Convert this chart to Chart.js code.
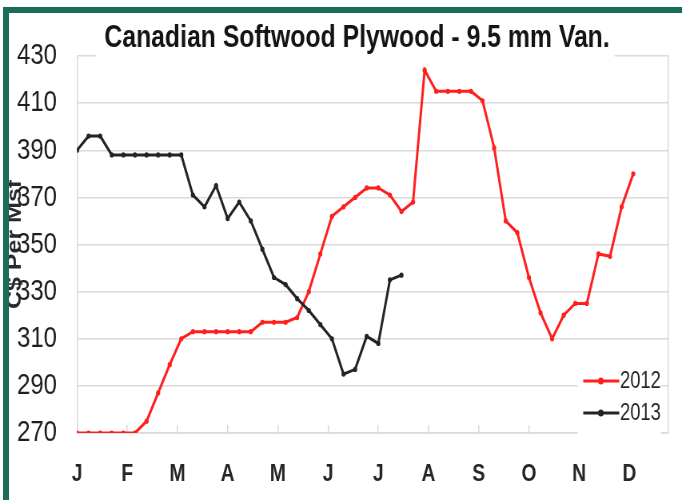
<!DOCTYPE html>
<html>
<head>
<meta charset="utf-8">
<title>Canadian Softwood Plywood - 9.5 mm Van.</title>
<script src="https://cdn.jsdelivr.net/npm/chart.js@4/dist/chart.umd.min.js"></script>
<style>
  html, body { margin: 0; padding: 0; background: #fff; }
  #wrap { position: relative; width: 682px; height: 500px; overflow: hidden; }
  /* the chart is laid out wide and squeezed horizontally, giving condensed lettering */
  #squeeze {
    position: absolute; left: 0; top: 0; width: 853px; height: 500px;
    transform: scaleX(0.7995); transform-origin: 0 0;
  }
  #chart { position: absolute; left: 0; top: 0; }
  #frame {
    position: absolute; left: 3px; top: 7px; right: 0; bottom: 0;
    border-left: 6px solid #1a6e59; border-top: 6px solid #1a6e59;
    pointer-events: none; z-index: 2;
  }
</style>
</head>
<body>
<div id="wrap">
  <div id="squeeze"><canvas id="chart" width="853" height="500"></canvas></div>
  <div id="frame"></div>
</div>
<script>
// Weekly Vancouver prices, C$ per Msf, one value per week starting the first week of January
const monthLabels = ['J', 'F', 'M', 'A', 'M', 'J', 'J', 'A', 'S', 'O', 'N', 'D'];
const seriesNames = ['2012', '2013'];
const prices2012 = [270, 270, 270, 270, 270, 270, 275, 287, 299, 310,
                    313, 313, 313, 313, 313, 313, 317, 317, 317, 319,
                    330, 346, 362, 366, 370, 374, 374, 371, 364, 368,
                    424, 415, 415, 415, 415, 411, 391, 360, 355, 336,
                    321, 310, 320, 325, 325, 346, 345, 366, 380];
const prices2013 = [390, 396, 396, 388, 388, 388, 388, 388, 388, 388,
                    371, 366, 375, 361, 368, 360, 348, 336, 333, 327,
                    322, 316, 310, 295, 297, 311, 308, 335, 337];
const yMin = 270, yMax = 430, yStep = 20;
const weeksPerYear = 52;
const chartTitle = 'Canadian Softwood Plywood - 9.5 mm Van.';
const yAxisTitle = 'C$ Per Msf';

const FAMILY = '"Liberation Sans", Arial, sans-serif';
const GRID = '#dadada';
const toPoints = arr => arr.map((v, i) => ({ x: i, y: v }));

// Title sits a little right of centre, over the top edge of the plot
const titlePlacement = {
  id: 'titlePlacement',
  afterLayout(chart) {
    const t = chart.titleBlock;
    if (t) t.left = 2 * 446.6 - t.right;
  },
  // white box behind the title so the top gridline breaks around it
  beforeDatasetsDraw(chart) {
    const t = chart.titleBlock;
    if (!t) return;
    const ctx = chart.ctx;
    const f = Chart.helpers.toFont(chart.options.plugins.title.font);
    ctx.save();
    ctx.font = f.string;
    const w = ctx.measureText(chartTitle).width;
    const cx = (t.left + t.right) / 2;
    ctx.fillStyle = '#fff';
    ctx.fillRect(cx - w / 2 - 10, t.top, w + 16, t.bottom - t.top + 4);
    ctx.restore();
    t.draw(chart.chartArea);
  }
};

// Legend boxed inside the lower right corner of the plot
const cornerLegend = {
  id: 'cornerLegend',
  afterDatasetsDraw(chart) {
    const { ctx, chartArea } = chart;
    const r = chartArea.right, b = chartArea.bottom;
    ctx.save();
    ctx.fillStyle = '#fff';
    ctx.fillRect(r - 113, b - 71, 104, 76);
    chart.data.datasets.forEach((ds, i) => {
      const y = b - 52 + i * 32;
      ctx.strokeStyle = ds.borderColor;
      ctx.lineWidth = 3;
      ctx.beginPath();
      ctx.moveTo(r - 106, y);
      ctx.lineTo(r - 61, y);
      ctx.stroke();
      ctx.fillStyle = ds.borderColor;
      ctx.beginPath();
      ctx.arc(r - 84, y, 3.5, 0, Math.PI * 2);
      ctx.fill();
      ctx.fillStyle = '#262626';
      ctx.font = '23px ' + FAMILY;
      ctx.textAlign = 'left';
      ctx.textBaseline = 'middle';
      ctx.fillText(ds.label, r - 60, y + 1);
    });
    ctx.restore();
  }
};

new Chart(document.getElementById('chart'), {
  type: 'line',
  data: {
    datasets: [
      {
        label: seriesNames[0],
        data: toPoints(prices2012),
        borderColor: '#ff1f1f',
        backgroundColor: '#ff1f1f',
        borderWidth: 3,
        pointRadius: 2.6,
        pointBorderWidth: 0,
        pointBackgroundColor: '#ff1f1f',
        tension: 0,
        order: 1
      },
      {
        label: seriesNames[1],
        data: toPoints(prices2013),
        borderColor: '#242424',
        backgroundColor: '#242424',
        borderWidth: 3,
        pointRadius: 2.6,
        pointBorderWidth: 0,
        pointBackgroundColor: '#242424',
        tension: 0,
        order: 0
      }
    ]
  },
  options: {
    responsive: false,
    animation: false,
    devicePixelRatio: 1,
    layout: { padding: { left: 0, right: 17.5, top: 0, bottom: 0 } },
    plugins: {
      legend: { display: false },
      tooltip: { enabled: false },
      title: {
        display: true,
        text: chartTitle,
        color: '#141414',
        font: { family: FAMILY, size: 31, weight: 'bold', lineHeight: 1 },
        padding: { top: 23, bottom: 2 }
      }
    },
    scales: {
      x: {
        type: 'linear',
        min: 0,
        max: 51,
        afterBuildTicks: scale => {
          scale.ticks = monthLabels.map((m, i) => ({ value: i * weeksPerYear / 12 }));
        },
        afterFit: scale => { scale.height = 67; },
        ticks: {
          autoSkip: false,
          maxRotation: 0,
          padding: 37,
          color: '#262626',
          font: { family: FAMILY, size: 24, weight: 'bold', lineHeight: 1 },
          callback: (value, index) => monthLabels[index]
        },
        grid: {
          drawOnChartArea: false,
          drawTicks: true,
          tickLength: -8,
          color: GRID,
          lineWidth: 1.5
        },
        border: { display: true, color: GRID, width: 1.5 }
      },
      y: {
        min: yMin,
        max: yMax,
        afterFit: scale => { scale.width = 96.3; },
        ticks: {
          stepSize: yStep,
          padding: 25,
          color: '#1e1e1e',
          font: { family: FAMILY, size: 30 }
        },
        grid: { color: GRID, lineWidth: 1.5, drawTicks: false },
        border: { display: true, color: GRID, width: 1.5 },
        title: {
          display: true,
          text: yAxisTitle,
          color: '#2a2a2a',
          font: { family: FAMILY, size: 25, weight: 'bold', lineHeight: 0.85 },
          padding: { top: 8, bottom: 0 }
        }
      },
      y2: {
        position: 'right',
        min: yMin,
        max: yMax,
        afterFit: scale => { scale.width = 0; },
        ticks: { display: false },
        grid: { drawOnChartArea: false, drawTicks: false },
        border: { display: true, color: GRID, width: 1.5 }
      }
    }
  },
  plugins: [titlePlacement, cornerLegend]
});
</script>
</body>
</html>
